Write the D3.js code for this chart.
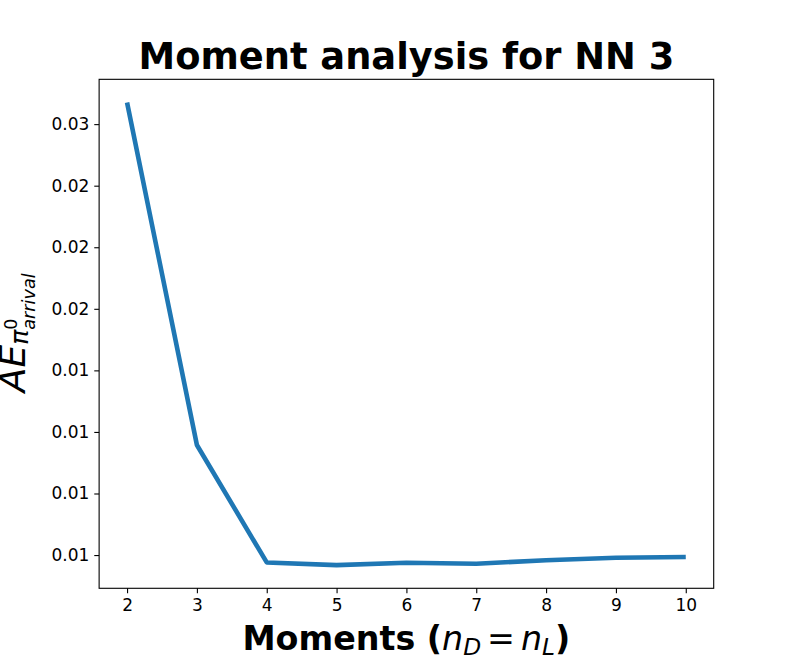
<!doctype html>
<html>
<head>
    <meta charset="UTF-8">
    <title>Moment analysis for NN 3</title>
    <script src="https://cdn.jsdelivr.net/npm/d3@7"></script>
    <style>
        body { margin: 0; background: #fff; }
        text { font-family: "DejaVu Sans", sans-serif; fill: #000; }
    </style>
</head>
<body>
    <div id="chart"></div>

    <script>
        // data
        var moments = [2, 3, 4, 5, 6, 7, 8, 9, 10];
        var aeValues = [0.02588, 0.01197, 0.00720, 0.00709, 0.00719, 0.00715, 0.00729, 0.00739, 0.00742];
        var yTicks = [0.0075, 0.0100, 0.0125, 0.0150, 0.0175, 0.0200, 0.0225, 0.0250];
        var yTickLabels = ["0.01", "0.01", "0.01", "0.01", "0.02", "0.02", "0.02", "0.03"];

        var width = 793,
            height = 661;

        // matplotlib default subplot box
        var plotLeft = width * 0.125,
            plotRight = width * 0.9,
            plotTop = height * 0.12,
            plotBottom = height * 0.89;

        var tickLen = 4.86,
            tickPad = 4.86;

        var svg = d3.select("#chart")
            .append("svg")
            .attr("width", width)
            .attr("height", height);

        // 5% margins like matplotlib autoscale
        var xMin = d3.min(moments), xMax = d3.max(moments);
        var xr = xMax - xMin;
        var x = d3.scaleLinear()
            .domain([xMin - 0.05 * xr, xMax + 0.05 * xr])
            .range([plotLeft, plotRight]);

        var yMin = d3.min(aeValues), yMax = d3.max(aeValues);
        var yr = yMax - yMin;
        var y = d3.scaleLinear()
            .domain([yMin - 0.05 * yr, yMax + 0.05 * yr])
            .range([plotBottom, plotTop]);

        // line
        var line = d3.line()
            .x(function (d, i) { return x(moments[i]); })
            .y(function (d) { return y(d); });

        svg.append("path")
            .datum(aeValues)
            .attr("d", line)
            .attr("fill", "none")
            .attr("stroke", "#1f77b4")
            .attr("stroke-width", 4.6)
            .attr("stroke-linejoin", "round");

        // axes
        var xAxis = d3.axisBottom(x)
            .tickValues(moments)
            .tickFormat(d3.format("d"))
            .tickSize(tickLen)
            .tickPadding(tickPad)
            .tickSizeOuter(0);

        var yAxis = d3.axisLeft(y)
            .tickValues(yTicks)
            .tickFormat(function (d, i) { return yTickLabels[i]; })
            .tickSize(tickLen)
            .tickPadding(tickPad)
            .tickSizeOuter(0);

        var gx = svg.append("g")
            .attr("transform", "translate(0," + plotBottom + ")")
            .call(xAxis);

        var gy = svg.append("g")
            .attr("transform", "translate(" + plotLeft + ",0)")
            .call(yAxis);

        [gx, gy].forEach(function (g) {
            g.select(".domain").remove();
            g.selectAll(".tick line").attr("stroke", "#000").attr("stroke-width", 1.1);
            g.selectAll(".tick text")
                .style("font-family", "DejaVu Sans")
                .style("font-size", "17px")
                .attr("fill", "#000");
        });
        gx.selectAll(".tick text").attr("dy", "0.76em");

        // frame
        svg.append("rect")
            .attr("x", plotLeft)
            .attr("y", plotTop)
            .attr("width", plotRight - plotLeft)
            .attr("height", plotBottom - plotTop)
            .attr("fill", "none")
            .attr("stroke", "#000")
            .attr("stroke-width", 1.1);

        // title
        svg.append("text")
            .text("Moment analysis for NN 3")
            .attr("x", (plotLeft + plotRight) / 2)
            .attr("y", plotTop - 10)
            .attr("text-anchor", "middle")
            .style("font-size", "36.8px")
            .style("font-weight", "bold");

        // x label: Moments (n_D = n_L)
        var xl = svg.append("text")
            .attr("x", (plotLeft + plotRight) / 2)
            .attr("y", 650)
            .attr("text-anchor", "middle")
            .style("font-size", "33.3px");

        xl.append("tspan").text("Moments (").style("font-weight", "bold");
        xl.append("tspan").text("n").style("font-style", "italic");
        xl.append("tspan").text("D").style("font-style", "italic")
            .style("font-size", "23.3px").attr("dy", 5);
        xl.append("tspan").text("=").attr("dy", -5).attr("dx", 6);
        xl.append("tspan").text("n").style("font-style", "italic").attr("dx", 6);
        xl.append("tspan").text("L").style("font-style", "italic")
            .style("font-size", "23.3px").attr("dy", 5);
        xl.append("tspan").text(")").style("font-weight", "bold").attr("dy", -5);

        // y label: AE_{pi^0_{arrival}}, rotated
        var yFs = 36;
        var yl = svg.append("g");

        var tAE = yl.append("text").text("AE")
            .attr("x", 0).attr("y", 0)
            .style("font-size", yFs + "px").style("font-style", "italic");
        var wAE = tAE.node().getComputedTextLength();

        var tPi = yl.append("text").text("π")
            .attr("x", wAE).attr("y", 3)
            .style("font-size", (yFs * 0.7) + "px").style("font-style", "italic");
        var wPi = tPi.node().getComputedTextLength();

        var tSup = yl.append("text").text("0")
            .attr("x", wAE + wPi).attr("y", -8)
            .style("font-size", (yFs * 0.49) + "px");
        var tSub = yl.append("text").text("arrival")
            .attr("x", wAE + wPi).attr("y", 10)
            .style("font-size", (yFs * 0.49) + "px").style("font-style", "italic");

        var total = wAE + wPi + Math.max(tSup.node().getComputedTextLength(), tSub.node().getComputedTextLength());
        yl.attr("transform", "translate(25," + ((plotTop + plotBottom) / 2 - 1) + ") rotate(-90) translate(" + (-total / 2) + ",0)");
    </script>
</body>
</html>
